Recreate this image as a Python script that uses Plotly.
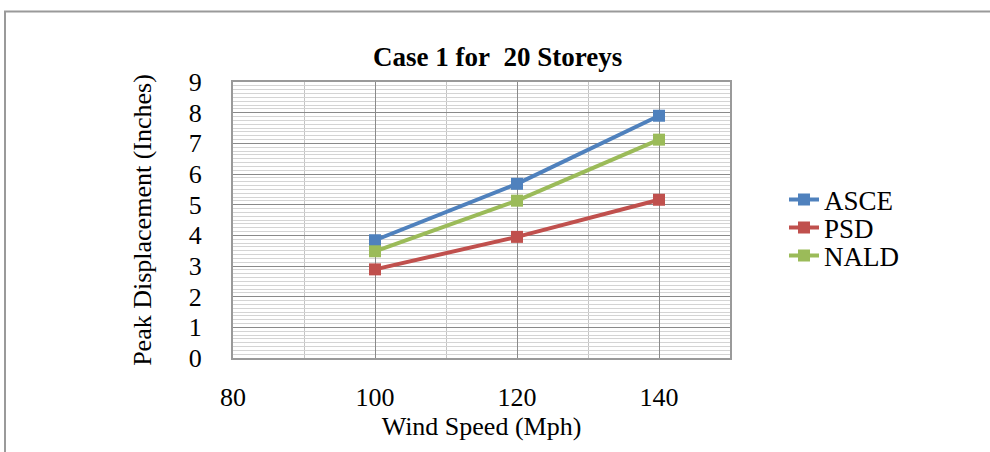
import plotly.graph_objects as go

# Wind speed (mph) and peak displacement (inches) per method
wind_speed = [100, 120, 140]
asce = [3.84, 5.68, 7.90]
psd = [2.89, 3.95, 5.16]
nald = [3.48, 5.13, 7.12]

series = [
    ("ASCE", asce, "#4F81BD"),
    ("PSD", psd, "#C0504D"),
    ("NALD", nald, "#9BBB59"),
]

W, H = 990, 452
# plot area edges in pixels
L, R, T, B = 233, 730, 82, 358


def px2x(px):
    return (px - L) / (R - L)


def py2y(py):
    return 1 - (py - T) / (B - T)


FONT = "Liberation Serif, Times New Roman, serif"

fig = go.Figure()
legend_rows = [200, 228, 256]
legend_keys = ["legend", "legend2", "legend3"]
for (name, vals, color), key in zip(series, legend_keys):
    fig.add_trace(go.Scatter(
        x=wind_speed, y=vals, name=name, mode="lines+markers",
        line=dict(color=color, width=4),
        marker=dict(symbol="square", size=12, color=color,
                    line=dict(color=color, width=0)),
        legend=key,
    ))

legend_layout = {}
for key, row in zip(legend_keys, legend_rows):
    legend_layout[key] = dict(
        x=px2x(784), xanchor="left",
        y=py2y(row), yanchor="middle",
        font=dict(size=27, family=FONT, color="black"),
        bgcolor="rgba(0,0,0,0)", borderwidth=0,
    )

fig.update_layout(
    width=W, height=H,
    margin=dict(l=L, r=W - R, t=T, b=H - B, autoexpand=False),
    paper_bgcolor="white", plot_bgcolor="white",
    font=dict(family=FONT, color="black"),
    showlegend=True,
    annotations=[
        dict(text="<b>Case 1 for\u00a0 20 Storeys</b>", x=px2x(497), y=py2y(57),
             xref="paper", yref="paper", showarrow=False,
             font=dict(size=27, family=FONT), xanchor="center", yanchor="middle"),
    ],
    shapes=[
        # outer chart border
        dict(type="rect", xref="paper", yref="paper",
             x0=px2x(5), x1=px2x(1000), y0=py2y(470), y1=py2y(11.5),
             line=dict(color="#9a9a9a", width=2), layer="below"),
    ],
    **legend_layout,
)

fig.update_xaxes(
    range=[80, 150], tick0=80, dtick=20,
    showgrid=True, gridcolor="#8a8a8a", gridwidth=1.3,
    minor=dict(dtick=10, tick0=80, showgrid=True, gridcolor="#c4c4c4", gridwidth=1.3),
    showline=True, linecolor="#9a9a9a", linewidth=2, mirror=True,
    zeroline=False, automargin=False,
    ticks="outside", ticklen=0, ticklabelstandoff=15,
    tickfont=dict(size=26, family=FONT),
    title=dict(text="Wind Speed (Mph)", font=dict(size=26, family=FONT), standoff=4),
)
fig.update_yaxes(
    range=[0, 9], tick0=0, dtick=1,
    showgrid=True, gridcolor="#8a8a8a", gridwidth=1.3,
    minor=dict(dtick=0.125, tick0=0, showgrid=True, gridcolor="#d4d4d4", gridwidth=1),
    showline=True, linecolor="#9a9a9a", linewidth=2, mirror=True,
    zeroline=False, automargin=False,
    ticks="outside", ticklen=0, ticklabelstandoff=24,
    tickfont=dict(size=26, family=FONT),
    title=dict(text="Peak Displacement (Inches)", font=dict(size=26, family=FONT), standoff=30),
)

fig.write_html("out.html")
